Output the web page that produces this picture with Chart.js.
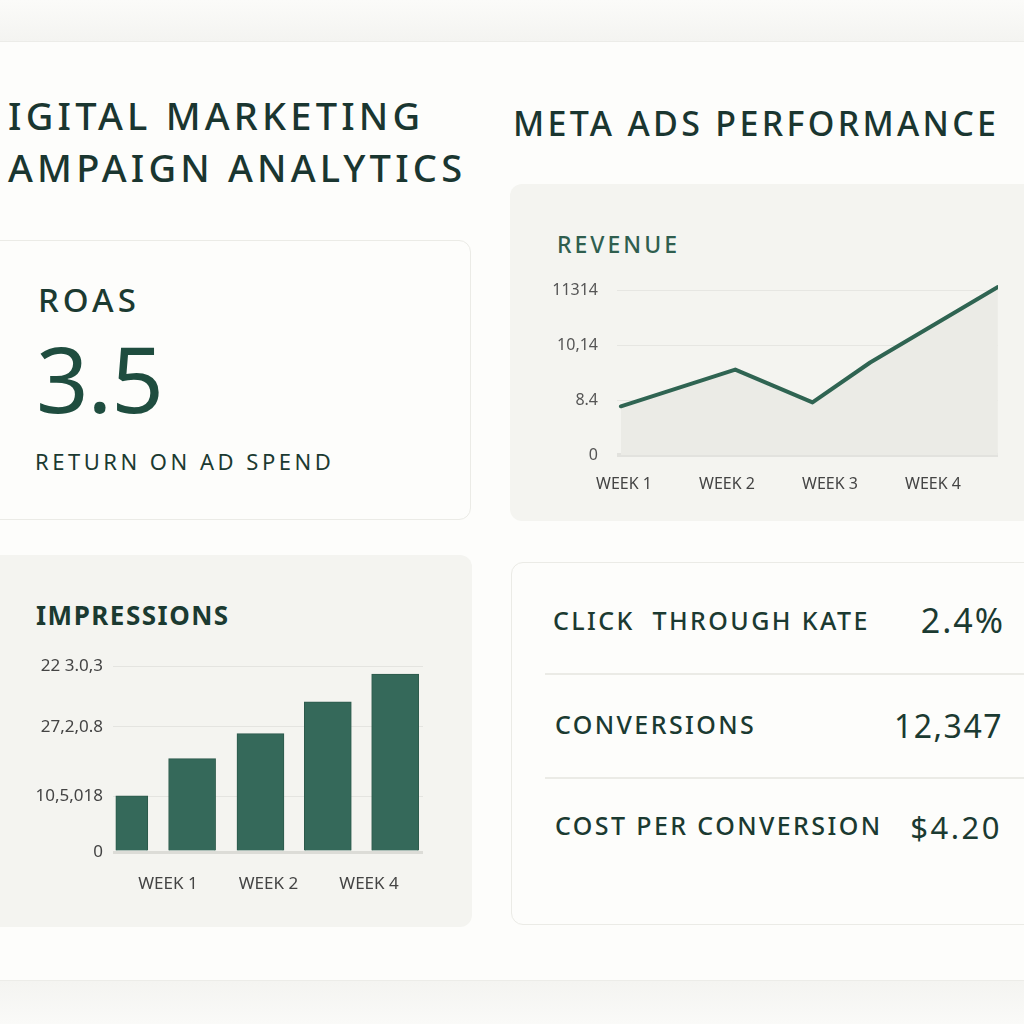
<!DOCTYPE html>
<html>
<head>
<meta charset="utf-8">
<script src="https://cdn.jsdelivr.net/npm/chart.js@4.4.1/dist/chart.umd.min.js"></script>
<style>
  html, body { margin: 0; padding: 0; }
  body {
    width: 1024px; height: 1024px; overflow: hidden; position: relative;
    background: #f6f6f3; font-family: 'Noto Sans', sans-serif; color: #1b3a31;
  }
  .strip-top { position: absolute; left: 0; top: 0; width: 1024px; height: 41px;
    background: linear-gradient(#fbfbf9, #f4f4f1); }
  .strip-bottom { position: absolute; left: 0; top: 981px; width: 1024px; height: 43px;
    background: linear-gradient(#f4f4f1, #fafaf8); }
  .panel { position: absolute; left: 0; top: 41px; width: 1024px; height: 940px;
    background: #fdfdfb; border-top: 1px solid #ecece8; border-bottom: 1px solid #ecece8; box-sizing: border-box; }
  .card { position: absolute; border-radius: 12px; box-sizing: border-box; }
  .card.light { background: #fdfdfb; border: 1.5px solid #ebebe6; }
  .card.gray { background: #f4f4f0; }
  .txt { position: absolute; line-height: 1; white-space: nowrap; }
  .title { font-size: 38px; font-weight: 500; letter-spacing: 4.2px; color: #1a3630; }
  .head { font-size: 34px; font-weight: 500; letter-spacing: 3.3px; color: #1a3630; }
  .label { font-size: 25px; font-weight: 500; letter-spacing: 2.4px; color: #1b3a31; }
  .value { font-size: 32px; font-weight: 400; letter-spacing: 1.5px; color: #1b3a31; text-align: right; }
  .rule { position: absolute; left: 545px; width: 500px; height: 1.5px; background: #ebebe6; }
  canvas { position: absolute; }
</style>
</head>
<body>
<div class="strip-top"></div>
<div class="strip-bottom"></div>
<div class="panel"></div>

<div class="txt title" style="left:8px; top:96px;">IGITAL MARKETING</div>
<div class="txt title" style="left:8px; top:148px;">AMPAIGN ANALYTICS</div>
<div class="txt head" style="left:513px; top:106px;">META ADS PERFORMANCE</div>

<!-- ROAS card -->
<div class="card light" style="left:-30px; top:240px; width:501px; height:280px;"></div>
<div class="txt" style="left:38px; top:283px; font-size:33px; font-weight:500; letter-spacing:4px;">ROAS</div>
<div class="txt" style="left:36px; top:332px; font-size:92px; letter-spacing:-1px; color:#1f4d3f;">3.5</div>
<div class="txt" style="left:35px; top:450px; font-size:22px; letter-spacing:3.5px;">RETURN ON AD SPEND</div>

<!-- Revenue card -->
<div class="card gray" style="left:510px; top:184px; width:540px; height:337px;"></div>
<div class="txt" style="left:557px; top:233px; font-size:23px; font-weight:500; letter-spacing:3px; color:#2f5e4e;">REVENUE</div>
<canvas id="revenueChart" width="470" height="256" style="left:540px; top:254px;"></canvas>

<!-- Impressions card -->
<div class="card gray" style="left:-30px; top:555px; width:502px; height:372px;"></div>
<div class="txt" style="left:36px; top:602px; font-size:26px; font-weight:700; letter-spacing:1.5px; color:#1b3a31;">IMPRESSIONS</div>
<canvas id="impressionsChart" width="420" height="254" style="left:20px; top:646px;"></canvas>

<!-- KPI card -->
<div class="card light" style="left:511px; top:562px; width:540px; height:363px;"></div>
<div class="txt label" style="left:553px; top:608px;">CLICK&nbsp; THROUGH KATE</div>
<div class="txt value" style="right:19px; top:603px; font-size:34px; letter-spacing:2px;">2.4%</div>
<div class="rule" style="top:673px;"></div>
<div class="txt label" style="left:555px; top:712px;">CONVERSIONS</div>
<div class="txt value" style="right:21px; top:710px;">12,347</div>
<div class="rule" style="top:777px;"></div>
<div class="txt label" style="left:555px; top:813px;">COST PER CONVERSION</div>
<div class="txt value" style="right:22px; top:812px; font-size:31px; letter-spacing:2.5px;">$4.20</div>

<script>
// Revenue line (week position, value in tick units)
const revenueWeeks = [0.97, 2.08, 2.83, 3.39, 4.63];
const revenueValues = [0.89, 1.56, 0.96, 1.69, 3.07];
const revenueTicks = [0, 1, 2, 3];
const revenueTickLabels = ['0', '8.4', '10,14', '11314'];
const revenueWeekTicks = [1, 2, 3, 4];
const revenueWeekLabels = ['WEEK 1', 'WEEK 2', 'WEEK 3', 'WEEK 4'];

// Impressions bars
const impressionWeeks = [0.64, 1.24, 1.92, 2.59, 3.26];
const impressionValues = [10.6, 17.6, 22.3, 28.3, 33.5];
const impressionTicks = [0, 10.5, 23.6, 35];
const impressionTickLabels = ['0', '10,5,018', '27,2,0.8', '22 3.0,3'];
const impressionWeekTicks = [1, 2, 3];
const impressionWeekLabels = ['WEEK 1', 'WEEK 2', 'WEEK 4'];

Chart.defaults.font.family = "'Noto Sans', sans-serif";

function fixedTicks(values) {
    return function(scale) {
        scale.ticks = values.map(function(v) { return { value: v }; });
    };
}

// Revenue line chart
new Chart(document.getElementById('revenueChart'), {
    type: 'line',
    data: {
        datasets: [{
            data: revenueWeeks.map(function(w, i) { return { x: w, y: revenueValues[i] }; }),
            borderColor: '#2f6452',
            borderWidth: 4,
            borderCapStyle: 'round',
            borderJoinStyle: 'round',
            backgroundColor: '#ebebe6',
            fill: 'origin',
            pointRadius: 0,
            tension: 0
        }]
    },
    options: {
        responsive: false,
        animation: false,
        layout: { padding: { top: 12, right: 12, left: 0, bottom: 0 } },
        plugins: { legend: { display: false }, tooltip: { enabled: false } },
        scales: {
            x: {
                type: 'linear',
                min: 0.932,
                max: 4.631,
                afterBuildTicks: fixedTicks(revenueWeekTicks),
                afterFit: function(s) { s.height = 55; },
                grid: { display: false },
                border: { display: false },
                ticks: {
                    padding: 12,
                    color: '#444',
                    font: { size: 16 },
                    maxRotation: 0,
                    autoSkip: false,
                    callback: function(v, i) { return revenueWeekLabels[i]; }
                }
            },
            y: {
                min: 0,
                max: 3.15,
                afterBuildTicks: fixedTicks(revenueTicks),
                afterFit: function(s) { s.width = 77; },
                border: { display: false },
                grid: {
                    drawTicks: false,
                    color: function(c) { return c.tick && c.tick.value === 0 ? '#e2e2de' : '#e6e6e2'; },
                    lineWidth: function(c) { return c.tick && c.tick.value === 0 ? 4 : 1; }
                },
                ticks: {
                    padding: 19,
                    color: '#555',
                    font: { size: 16 },
                    callback: function(v, i) { return revenueTickLabels[i]; }
                }
            }
        }
    }
});

// Impressions bar chart (first bar is narrower in the original)
const impressionPoints = impressionWeeks.map(function(w, i) { return { x: w, y: impressionValues[i] }; });
new Chart(document.getElementById('impressionsChart'), {
    type: 'bar',
    data: {
        datasets: [{
            data: impressionPoints.slice(0, 1),
            backgroundColor: '#35695a',
            borderColor: '#2c5a4b',
            borderWidth: 1,
            barThickness: 32,
            stack: 'a'
        }, {
            data: impressionPoints.slice(1),
            backgroundColor: '#35695a',
            borderColor: '#2c5a4b',
            borderWidth: 1,
            barThickness: 47,
            stack: 'a'
        }]
    },
    options: {
        responsive: false,
        animation: false,
        layout: { padding: { top: 15, right: 17, left: 0, bottom: 0 } },
        plugins: { legend: { display: false }, tooltip: { enabled: false } },
        scales: {
            x: {
                type: 'linear',
                offset: false,
                min: 0.453,
                max: 3.537,
                afterBuildTicks: fixedTicks(impressionWeekTicks),
                afterFit: function(s) { s.height = 48; },
                grid: { display: false },
                border: { display: false },
                ticks: {
                    padding: 14,
                    color: '#444',
                    font: { size: 17 },
                    maxRotation: 0,
                    autoSkip: false,
                    callback: function(v, i) { return impressionWeekLabels[i]; }
                }
            },
            y: {
                min: 0,
                max: 35,
                afterBuildTicks: fixedTicks(impressionTicks),
                afterFit: function(s) { s.width = 93; },
                border: { display: false },
                grid: {
                    drawTicks: false,
                    color: function(c) { return c.tick && c.tick.value === 0 ? '#dcdcd7' : '#e4e4e0'; },
                    lineWidth: function(c) { return c.tick && c.tick.value === 0 ? 3 : 1; }
                },
                ticks: {
                    padding: 10,
                    color: '#444',
                    font: { size: 17 },
                    callback: function(v, i) { return impressionTickLabels[i]; }
                }
            }
        }
    }
});
</script>
</body>
</html>
